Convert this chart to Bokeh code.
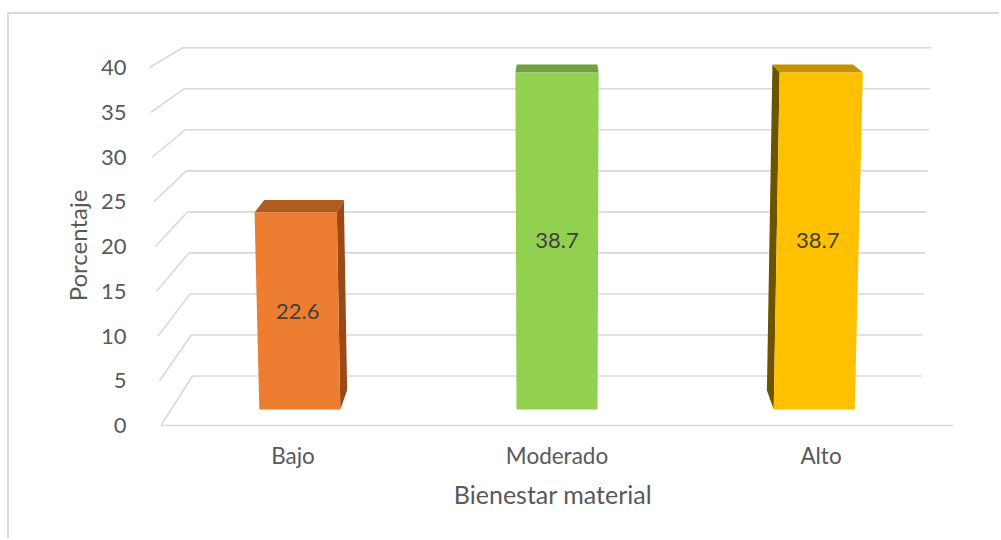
import numpy as np
from bokeh.plotting import figure
from bokeh.models import Range1d, FixedTicker, ColumnDataSource
from bokeh.core.properties import value
from bokeh.embed import file_html
from bokeh.resources import INLINE

# ---- data -------------------------------------------------------------
categories = ["Bajo", "Moderado", "Alto"]
percentages = [22.6, 38.7, 38.7]
y_ticks = [0, 5, 10, 15, 20, 25, 30, 35, 40]
x_title = "Bienestar material"
y_title = "Porcentaje"

front_colors = ["#ED7D31", "#92D050", "#FFC000"]
top_colors = ["#B35A1F", "#70A03F", "#C49200"]
side_colors = ["#9B4A17", "#5F8A30", "#6B5300"]

FONT = "Lato"
TEXT_GREY = "#595959"
GRID_GREY = "#D9D9D9"

# ---- simple 3-D projection in data units --------------------------------
# x: category slot on the front edge of the floor, y: value on the front plane
VX, VY = 1.0, 66.6      # vanishing point of the depth direction
KEY = 7.25e-4           # horizontal widening per value unit (camera tilt)
K_WALL = 0.917          # depth of the back wall
K_FRONT = 0.973         # depth of the bars' front faces
K_BACK = 0.941          # depth of the bars' back faces
HALF_W = 0.1575         # half bar width in category slots


def proj(x, v, k):
    xd = VX + k * (x - VX)
    yd = VY + k * (v - VY)
    xd = VX + (xd - VX) * (1 + KEY * yd)
    return float(xd), float(yd)


def poly(points):
    xs, ys = zip(*[proj(*pt) for pt in points])
    return list(xs), list(ys)


# ---- figure --------------------------------------------------------------
p = figure(
    width=992, height=526,
    x_range=Range1d(-0.5777, 2.5473), y_range=Range1d(-2.793, 43.017),
    output_backend="svg", toolbar_location=None,
    min_border_left=131, min_border_right=36,
    min_border_top=26, min_border_bottom=90,
)
p.margin = (12, 0, 0, 7)
p.styles = {"border-left": "2px solid #D9D9D9", "border-top": "2px solid #D9D9D9"}
p.grid.visible = False
p.outline_line_color = None
p.background_fill_color = "white"
p.border_fill_color = "white"

n = len(categories)
left_edge, right_edge = -0.5, n - 0.5

# back wall gridlines with their short floor/side stubs
gx, gy = [], []
for t in y_ticks:
    xs, ys = poly([(left_edge, t, 1.0), (left_edge, t, K_WALL), (right_edge, t, K_WALL)])
    gx.append(xs)
    gy.append(ys)
xs, ys = poly([(left_edge, 0, 1.0), (right_edge, 0, 1.0)])
gx.append(xs)
gy.append(ys)
p.multi_line(gx, gy, line_color=GRID_GREY, line_width=1.6)

# bars
for i, (val, cf, ct, cs) in enumerate(zip(percentages, front_colors, top_colors, side_colors)):
    x0, x1 = i - HALF_W, i + HALF_W
    if i < VX:
        xs, ys = poly([(x1, 0, K_FRONT), (x1, val, K_FRONT), (x1, val, K_BACK), (x1, 0, K_BACK)])
        p.patch(xs, ys, fill_color=cs, line_color=None)
    elif i > VX:
        xs, ys = poly([(x0, 0, K_FRONT), (x0, val, K_FRONT), (x0, val, K_BACK), (x0, 0, K_BACK)])
        p.patch(xs, ys, fill_color=cs, line_color=None)
    xs, ys = poly([(x0, val, K_FRONT), (x1, val, K_FRONT), (x1, val, K_BACK), (x0, val, K_BACK)])
    p.patch(xs, ys, fill_color=ct, line_color=None)
    xs, ys = poly([(x0, 0, K_FRONT), (x1, 0, K_FRONT), (x1, val, K_FRONT), (x0, val, K_FRONT)])
    p.patch(xs, ys, fill_color=cf, line_color=None)

# value labels in the middle of each front face
lab_pts = [proj(i, v / 2, K_FRONT) for i, v in enumerate(percentages)]
src = ColumnDataSource(dict(
    x=[pt[0] for pt in lab_pts], y=[pt[1] for pt in lab_pts],
    t=[f"{v:.1f}" for v in percentages],
))
p.text("x", "y", text="t", source=src, text_font=value(FONT), text_font_size="22px",
       text_color="#404040", text_align="center", text_baseline="middle")

# axes
p.yaxis.ticker = FixedTicker(ticks=y_ticks)
p.yaxis.axis_line_color = None
p.yaxis.major_tick_line_color = None
p.yaxis.minor_tick_line_color = None
p.yaxis.major_label_standoff = 8
p.yaxis.major_label_text_font = FONT
p.yaxis.major_label_text_font_size = "22px"
p.yaxis.major_label_text_color = TEXT_GREY
p.yaxis.axis_label = y_title
p.yaxis.axis_label_standoff = 6
p.yaxis.axis_label_text_font = FONT
p.yaxis.axis_label_text_font_size = "24px"
p.yaxis.axis_label_text_font_style = "normal"
p.yaxis.axis_label_text_color = TEXT_GREY

p.xaxis.ticker = FixedTicker(ticks=list(range(n)))
p.xaxis.major_label_overrides = {i: c for i, c in enumerate(categories)}
p.xaxis.axis_line_color = None
p.xaxis.major_tick_line_color = None
p.xaxis.minor_tick_line_color = None
p.xaxis.major_label_standoff = -15
p.xaxis.major_label_text_font = FONT
p.xaxis.major_label_text_font_size = "22.5px"
p.xaxis.major_label_text_color = TEXT_GREY
p.xaxis.axis_label = x_title
p.xaxis.axis_label_standoff = 7
p.xaxis.axis_label_text_font = FONT
p.xaxis.axis_label_text_font_size = "25px"
p.xaxis.axis_label_text_font_style = "normal"
p.xaxis.axis_label_text_color = TEXT_GREY

open("out.html", "w").write(file_html(p, INLINE))
